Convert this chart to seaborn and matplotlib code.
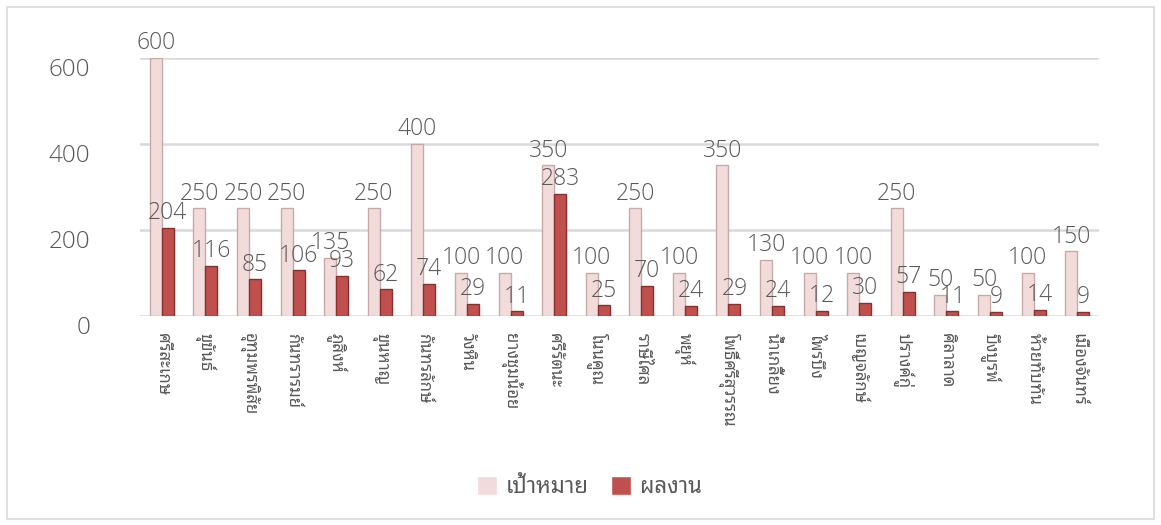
import matplotlib
matplotlib.use("Agg")
import matplotlib.pyplot as plt
from matplotlib import font_manager
from matplotlib.patches import Rectangle
import pandas as pd
import seaborn as sns

districts = ["ศรีสะเกษ", "ขุขันธ์", "อุทุมพรพิสัย", "กันทรารมย์", "ภูสิงห์",
             "ขุนหาญ", "กันทรลักษ์", "วังหิน", "ยางชุมน้อย", "ศรีรัตนะ",
             "โนนคูณ", "ราษีไศล", "พยุห์", "โพธิ์ศรีสุวรรณ", "น้ำเกลี้ยง",
             "ไพรบึง", "เบญจลักษ์", "ปรางค์กู่", "ศิลาลาด", "บึงบูรพ์",
             "ห้วยทับทัน", "เมืองจันทร์"]
target = [600, 250, 250, 250, 135, 250, 400, 100, 100, 350, 100, 250, 100,
          350, 130, 100, 100, 250, 50, 50, 100, 150]
result = [204, 116, 85, 106, 93, 62, 74, 29, 11, 283, 25, 70, 24, 29, 24,
          12, 30, 57, 11, 9, 14, 9]
series = ["เป้าหมาย", "ผลงาน"]
yticks = [0, 200, 400, 600]


def pick_font(prefs):
    names = set(f.name for f in font_manager.fontManager.ttflist)
    for p in prefs:
        if p in names:
            return p
    return "DejaVu Sans"


def main():
    thai = pick_font(["Noto Sans Thai Looped", "Noto Sans Thai", "Sarabun",
                      "Loma", "Tlwg Typo"])
    num = pick_font(["Open Sans", "Noto Sans", "DejaVu Sans"])

    df = pd.DataFrame({
        "district": districts * 2,
        "value": target + result,
        "series": [series[0]] * len(target) + [series[1]] * len(result),
    })

    sns.set_theme(style="white")
    plt.rcParams['font.family'] = [num, thai, "DejaVu Sans"]
    grey = "#595959"

    fig = plt.figure(figsize=(11.61, 5.25), dpi=100)
    fig.patches.append(Rectangle((0.006, 0.012), 0.988, 0.975,
                                 transform=fig.transFigure, fill=False,
                                 ec="#D9D9D9", lw=1.2))
    ax = fig.add_axes([0.1206, 0.398, 0.826, 0.492])

    sns.barplot(data=df, x="district", y="value", hue="series", ax=ax,
                palette=["#F2DCDB", "#C0504D"], width=0.55, gap=0.0,
                saturation=1, legend=True)
    edges = ["#C8A9A8", "#8C2F2C"]
    for cont, ec in zip(ax.containers, edges):
        for bar in cont:
            bar.set_edgecolor(ec)
            bar.set_linewidth(1.0)
        ax.bar_label(cont, fmt="%d", padding=2, fontsize=16.5, color=grey,
                     fontweight="light", clip_on=False)

    ax.set_ylim(0, 600)
    ax.set_yticks(yticks)
    ax.set_xlim(-0.5, len(districts) - 0.5)
    ax.yaxis.grid(True, color="#D9D9D9", lw=1.8)
    ax.set_axisbelow(True)
    for s in ax.spines.values():
        s.set_visible(False)
    ax.tick_params(axis="y", labelsize=17.5, labelcolor=grey, pad=36,
                   length=0)
    ax.tick_params(axis="x", length=0, pad=12)
    for lab in ax.get_xticklabels():
        lab.set_rotation(270)
        lab.set_fontsize(12)
        lab.set_color(grey)
        lab.set_family([thai, "DejaVu Sans"])
        lab.set_va("top")
        lab.set_ha("center")
    for lab in ax.get_yticklabels():
        lab.set_va("top")
        lab.set_fontweight("light")
    ax.set_xlabel("")
    ax.set_ylabel("")

    leg = ax.legend(loc="center", ncol=2, frameon=False,
                    prop={"family": [thai, "DejaVu Sans"], "size": 16},
                    handlelength=0.9, handleheight=0.9, columnspacing=1.0,
                    handletextpad=0.4)
    leg.set_bbox_to_anchor((0.508, 0.072), transform=fig.transFigure)
    for t in leg.get_texts():
        t.set_color(grey)

    fig.savefig("out.png", dpi=100)


if __name__ == "__main__":
    main()
